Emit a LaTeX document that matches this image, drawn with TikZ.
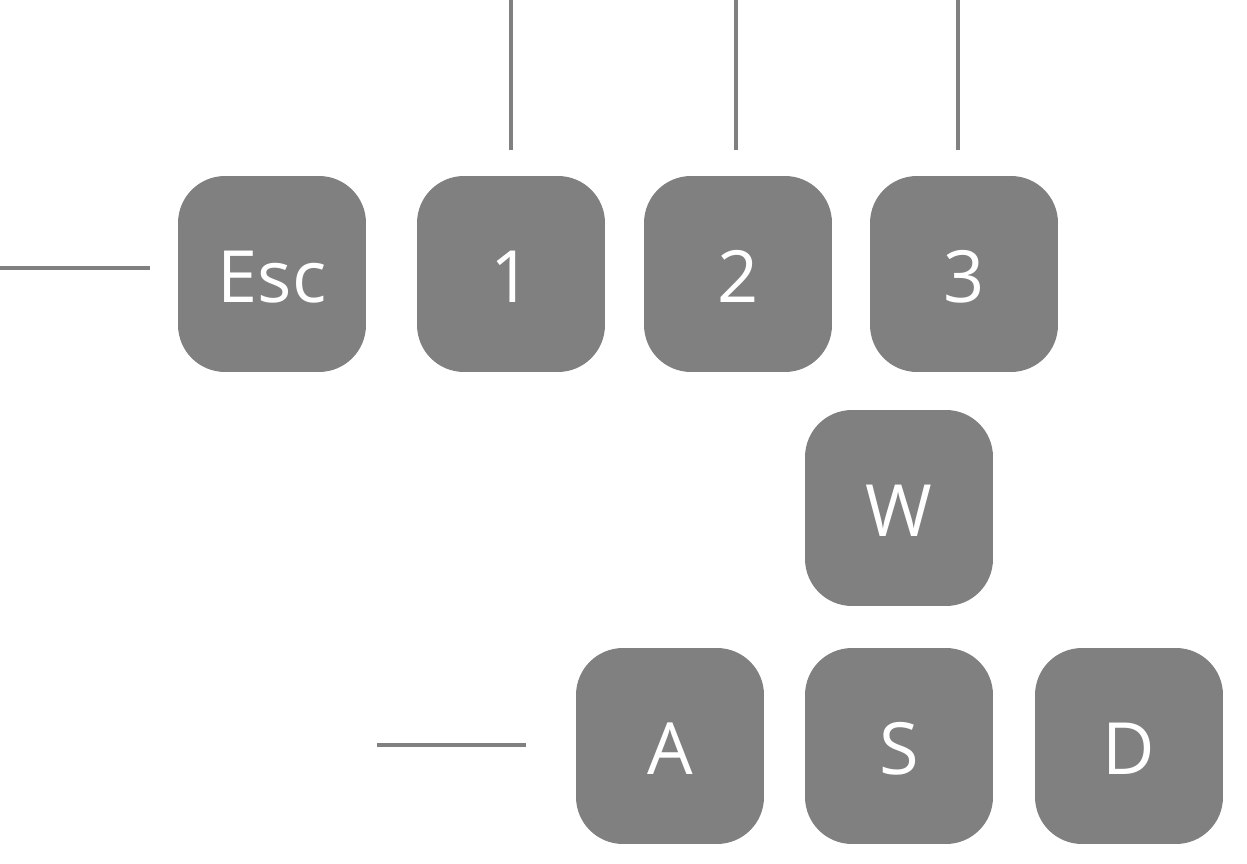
\documentclass[tikz,border=0pt]{standalone}
\usepackage{fontspec}
\setmainfont{Open Sans}
\usetikzlibrary{positioning}
\definecolor{keygray}{RGB}{128,128,128}

\begin{document}
\begin{tikzpicture}[x=0.02cm,y=-0.02cm]
	\tikzstyle{key}=[rectangle, rounded corners=0.94cm, fill=keygray, minimum width=3.76cm, minimum height=3.92cm, inner sep=0pt, text height=1.16cm, text depth=0pt, text=white, font=\fontsize{41}{41}\selectfont]
	\tikzstyle{guide}=[draw=keygray, line width=1.8pt]
	
	\useasboundingbox (0,0) rectangle (1247,864);
	
	% top row
	\draw node at (272, 274) [key] (esc) {Esc};
	\draw node at (511, 274) [key] (k1) {1};
	\draw node at (738, 274) [key] (k2) {2};
	\draw node at (964, 274) [key] (k3) {3};
	
	% wasd
	\draw node at (899, 508) [key] (w) {W};
	\draw node at (670, 746) [key] (a) {A};
	\draw node at (899, 746) [key] (s) {S};
	\draw node at (1129, 746) [key] (d) {D};
	
	\coordinate (escl) at (0, 268);
	\coordinate (escr) at (150, 268);
	\coordinate (al) at (377, 745);
	\coordinate (ar) at (526, 745);
	\coordinate (k1t) at (511, 0);
	\coordinate (k1b) at (511, 150);
	\coordinate (k2t) at (736, 0);
	\coordinate (k2b) at (736, 150);
	\coordinate (k3t) at (958, 0);
	\coordinate (k3b) at (958, 150);
	
	\draw [guide] (escl) -- (escr);
	\draw [guide] (al) -- (ar);
	\draw [guide] (k1t) -- (k1b);
	\draw [guide] (k2t) -- (k2b);
	\draw [guide] (k3t) -- (k3b);
\end{tikzpicture}
\end{document}
